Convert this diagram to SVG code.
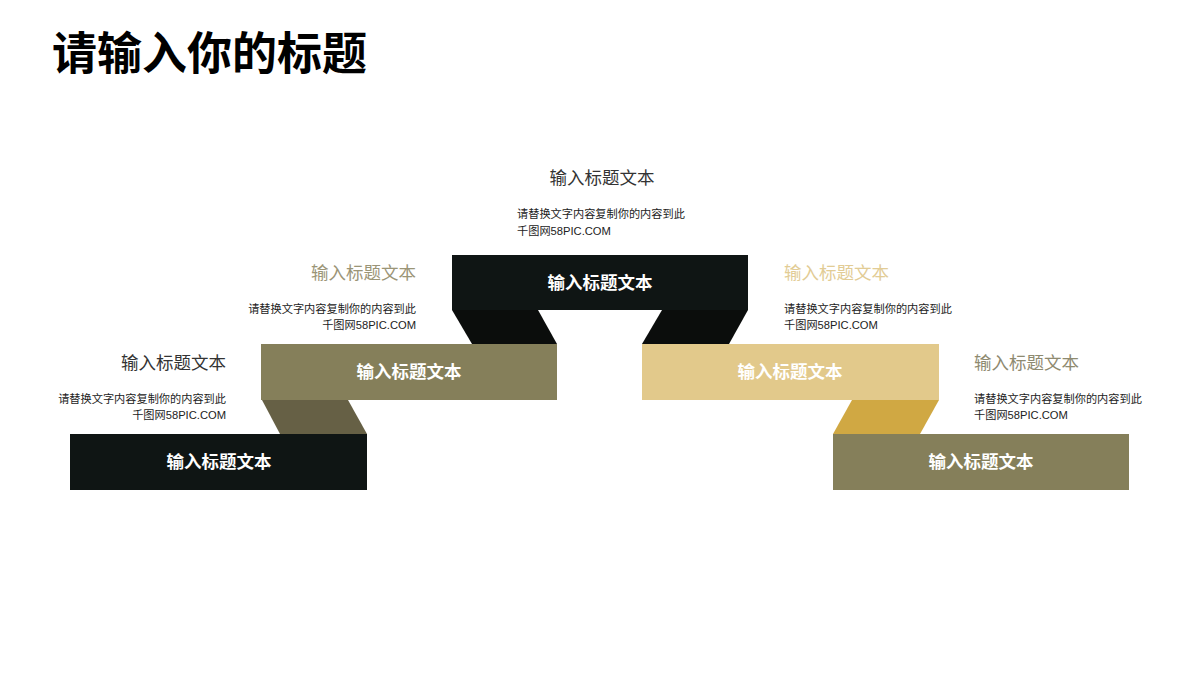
<svg xmlns="http://www.w3.org/2000/svg" width="1200" height="675" viewBox="0 0 1200 675">
<style>
.title{font-family:"Noto Sans CJK SC","Liberation Sans",sans-serif;font-weight:700;font-size:45px;fill:#000}
.box{font-family:"Noto Sans CJK SC","Liberation Sans",sans-serif;font-weight:700;font-size:17.5px;fill:#fff;text-anchor:middle}
.hd{font-family:"Noto Sans CJK SC","Liberation Sans",sans-serif;font-size:17.5px}
.bd{font-family:"Liberation Sans","Noto Sans CJK SC",sans-serif;font-size:11.2px;fill:#222}
.end{text-anchor:end}
.dark{fill:#0f1514}
.olive{fill:#857f5a}
.tan{fill:#e2c98b}
</style>
<rect width="1200" height="675" fill="#fff"/>
<text class="title" x="52" y="70">请输入你的标题</text>
<g id="connectors">
<polygon points="452,310 538,310 557,344 472,344" fill="#0b0d0c"/>
<polygon points="662,310 748,310 729,344 642,344" fill="#0b0d0c"/>
<polygon points="262,400 348,400 367,434 280,434" fill="#666045"/>
<polygon points="852,400 939,400 920,434 833,434" fill="#d0a843"/>
</g>
<g id="node-top">
<rect class="dark" x="452" y="255" width="296" height="55"/>
<text class="box" x="600" y="289">输入标题文本</text>
<text class="hd" x="602" y="184" text-anchor="middle" fill="#333">输入标题文本</text>
<text class="bd" x="517" y="218">请替换文字内容复制你的内容到此</text>
<text class="bd" x="517" y="235">千图网58PIC.COM</text>
</g>
<g id="node-left2">
<rect class="olive" x="261" y="344" width="296" height="56"/>
<text class="box" x="409" y="378">输入标题文本</text>
<text class="hd end" x="416" y="279" fill="#9b9577">输入标题文本</text>
<text class="bd end" x="416" y="313">请替换文字内容复制你的内容到此</text>
<text class="bd end" x="416" y="329">千图网58PIC.COM</text>
</g>
<g id="node-left1">
<rect class="dark" x="70" y="434" width="297" height="56"/>
<text class="box" x="219" y="468">输入标题文本</text>
<text class="hd end" x="226" y="369" fill="#333">输入标题文本</text>
<text class="bd end" x="226" y="403">请替换文字内容复制你的内容到此</text>
<text class="bd end" x="226" y="419">千图网58PIC.COM</text>
</g>
<g id="node-right2">
<rect class="tan" x="642" y="344" width="297" height="56"/>
<text class="box" x="790" y="378">输入标题文本</text>
<text class="hd" x="784" y="279" fill="#e2cc95">输入标题文本</text>
<text class="bd" x="784" y="313">请替换文字内容复制你的内容到此</text>
<text class="bd" x="784" y="329">千图网58PIC.COM</text>
</g>
<g id="node-right1">
<rect class="olive" x="833" y="434" width="296" height="56"/>
<text class="box" x="981" y="468">输入标题文本</text>
<text class="hd" x="974" y="369" fill="#8e8a70">输入标题文本</text>
<text class="bd" x="974" y="403">请替换文字内容复制你的内容到此</text>
<text class="bd" x="974" y="419">千图网58PIC.COM</text>
</g>
</svg>
